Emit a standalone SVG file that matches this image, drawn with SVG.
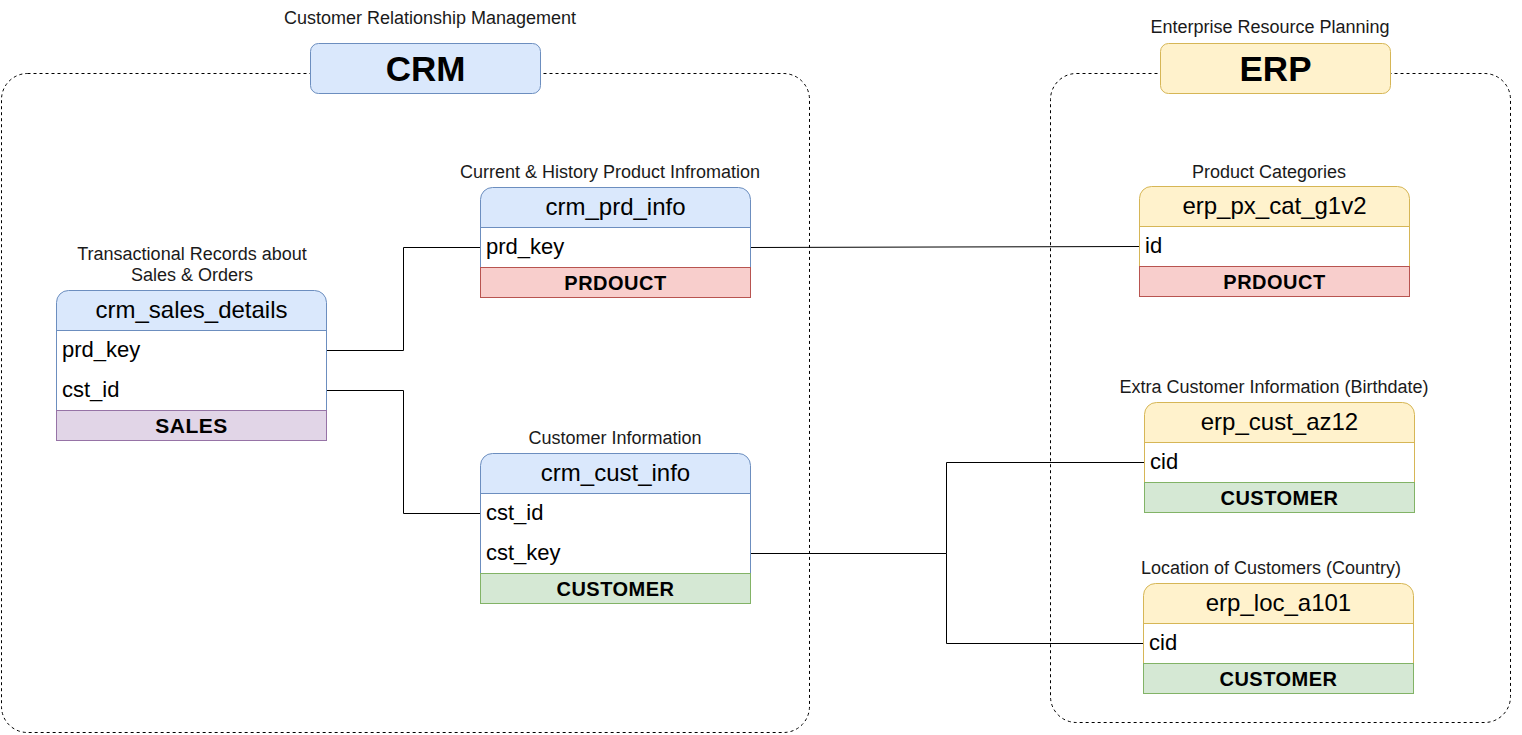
<svg xmlns="http://www.w3.org/2000/svg" width="1522" height="735" viewBox="0 0 1522 735">
<style>
.bg{fill:#fff}
.cont{fill:none;stroke:#000;stroke-width:1;stroke-dasharray:3 3}
.tb{fill:#dae8fc;stroke:#6c8ebf}
.ty{fill:#fff2cc;stroke:#d6b656}
.rb{fill:#fff;stroke:#6c8ebf}
.ry{fill:#fff;stroke:#d6b656}
.fr{fill:#f8cecc;stroke:#b85450}
.fg{fill:#d5e8d4;stroke:#82b366}
.fp{fill:#e1d5e7;stroke:#9673a6}
text{font-family:"Liberation Sans",Arial,sans-serif;fill:#000}
.lbl{font-size:18px;text-anchor:middle;fill:#1a1a1a}
.ttl{font-size:35px;font-weight:bold;text-anchor:middle}
.hd{font-size:24px;text-anchor:middle}
.row{font-size:22px}
.ft{font-size:20px;font-weight:bold;text-anchor:middle;letter-spacing:0.5px}
.conn{fill:none;stroke:#000;stroke-width:1}
</style>
<rect class="bg" x="0" y="0" width="1522" height="735"/>

<g id="crm-container">
<rect class="cont" x="1.5" y="73.5" width="808" height="659" rx="26"/>
<text class="lbl" x="430" y="23.5">Customer Relationship Management</text>
<rect class="tb" x="310.5" y="43.5" width="230" height="50" rx="8"/>
<text class="ttl" x="425.5" y="80.5">CRM</text>
</g>

<g id="erp-container">
<rect class="cont" x="1050.5" y="73.5" width="460" height="649" rx="26"/>
<text class="lbl" x="1270" y="32.5">Enterprise Resource Planning</text>
<rect class="ty" x="1160.5" y="43.5" width="230" height="50" rx="8"/>
<text class="ttl" x="1275.5" y="80.5">ERP</text>
</g>

<g id="connectors">
<polyline class="conn" points="326.5,350.5 403.5,350.5 403.5,247.5 480.5,247.5"/>
<polyline class="conn" points="326.5,390.5 403.5,390.5 403.5,513.5 480.5,513.5"/>
<line class="conn" x1="750.5" y1="247.5" x2="1139.5" y2="246.5"/>
<polyline class="conn" points="750.5,553.5 946.5,553.5 946.5,462.5 1144.5,462.5"/>
<polyline class="conn" points="946.5,553.5 946.5,643.5 1143.5,643.5"/>
</g>

<g id="crm_sales_details">
<text class="lbl" x="192" y="259.5">Transactional Records about</text>
<text class="lbl" x="192" y="280.5">Sales &amp; Orders</text>
<path class="tb" d="M56.5,330.5 V302.5 A12,12 0 0 1 68.5,290.5 H314.5 A12,12 0 0 1 326.5,302.5 V330.5 Z"/>
<rect class="rb" x="56.5" y="330.5" width="270" height="80"/>
<rect class="fp" x="56.5" y="410.5" width="270" height="30"/>
<text class="hd" x="191.5" y="317.5">crm_sales_details</text>
<text class="row" x="62" y="357">prd_key</text>
<text class="row" x="62" y="397">cst_id</text>
<text class="ft" x="191.5" y="432.5" style="font-size:21px">SALES</text>
</g>

<g id="crm_prd_info">
<text class="lbl" x="610" y="177.5">Current &amp; History Product Infromation</text>
<path class="tb" d="M480.5,227.5 V199.5 A12,12 0 0 1 492.5,187.5 H738.5 A12,12 0 0 1 750.5,199.5 V227.5 Z"/>
<rect class="rb" x="480.5" y="227.5" width="270" height="40"/>
<rect class="fr" x="480.5" y="267.5" width="270" height="30"/>
<text class="hd" x="615.5" y="214.5">crm_prd_info</text>
<text class="row" x="486" y="254">prd_key</text>
<text class="ft" x="615.5" y="289.5">PRDOUCT</text>
</g>

<g id="crm_cust_info">
<text class="lbl" x="615" y="443.5">Customer Information</text>
<path class="tb" d="M480.5,493.5 V465.5 A12,12 0 0 1 492.5,453.5 H738.5 A12,12 0 0 1 750.5,465.5 V493.5 Z"/>
<rect class="rb" x="480.5" y="493.5" width="270" height="80"/>
<rect class="fg" x="480.5" y="573.5" width="270" height="30"/>
<text class="hd" x="615.5" y="480.5">crm_cust_info</text>
<text class="row" x="486" y="520">cst_id</text>
<text class="row" x="486" y="560">cst_key</text>
<text class="ft" x="615.5" y="595.5">CUSTOMER</text>
</g>

<g id="erp_px_cat_g1v2">
<text class="lbl" x="1269" y="177.5">Product Categories</text>
<path class="ty" d="M1139.5,226.5 V198.5 A12,12 0 0 1 1151.5,186.5 H1397.5 A12,12 0 0 1 1409.5,198.5 V226.5 Z"/>
<rect class="ry" x="1139.5" y="226.5" width="270" height="40"/>
<rect class="fr" x="1139.5" y="266.5" width="270" height="30"/>
<text class="hd" x="1274.5" y="213.5">erp_px_cat_g1v2</text>
<text class="row" x="1145" y="253">id</text>
<text class="ft" x="1274.5" y="288.5">PRDOUCT</text>
</g>

<g id="erp_cust_az12">
<text class="lbl" x="1274" y="392.5">Extra Customer Information (Birthdate)</text>
<path class="ty" d="M1144.5,442.5 V414.5 A12,12 0 0 1 1156.5,402.5 H1402.5 A12,12 0 0 1 1414.5,414.5 V442.5 Z"/>
<rect class="ry" x="1144.5" y="442.5" width="270" height="40"/>
<rect class="fg" x="1144.5" y="482.5" width="270" height="30"/>
<text class="hd" x="1279.5" y="429.5">erp_cust_az12</text>
<text class="row" x="1150" y="469">cid</text>
<text class="ft" x="1279.5" y="504.5">CUSTOMER</text>
</g>

<g id="erp_loc_a101">
<text class="lbl" x="1271" y="573.5">Location of Customers (Country)</text>
<path class="ty" d="M1143.5,623.5 V595.5 A12,12 0 0 1 1155.5,583.5 H1401.5 A12,12 0 0 1 1413.5,595.5 V623.5 Z"/>
<rect class="ry" x="1143.5" y="623.5" width="270" height="40"/>
<rect class="fg" x="1143.5" y="663.5" width="270" height="30"/>
<text class="hd" x="1278.5" y="610.5">erp_loc_a101</text>
<text class="row" x="1149" y="650">cid</text>
<text class="ft" x="1278.5" y="685.5">CUSTOMER</text>
</g>
</svg>
